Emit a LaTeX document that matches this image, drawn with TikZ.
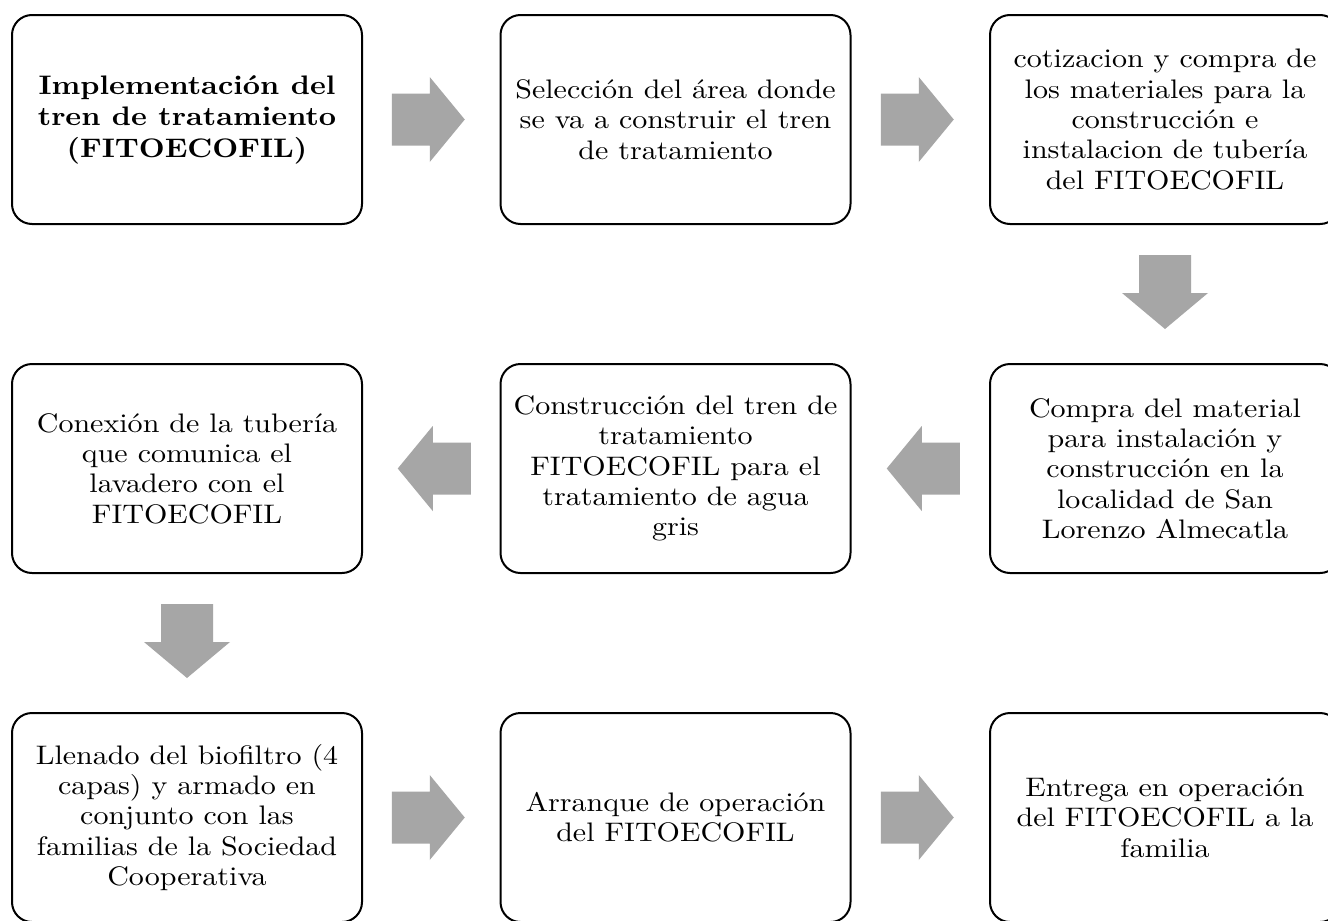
\documentclass[tikz,border=0pt]{standalone}
\usepackage{fontspec}
\setmainfont{lmroman10}[Extension=.otf, UprightFont=*-regular, BoldFont=*-bold, ItalicFont=*-italic, BoldItalicFont=*-bolditalic, FakeStretch=1.12]
\usetikzlibrary{calc}
\definecolor{arrowgray}{RGB}{166,166,166}
\tikzset{
  stepbox/.style={draw, line width=2pt, rounded corners=20pt,
    minimum width=350pt, minimum height=209pt, align=center,
    font=\fontsize{26.8}{30.3}\selectfont, inner sep=0pt},
  boldbox/.style={stepbox, font=\fontsize{26.8}{31.5}\selectfont\bfseries},
  garrow/.style={fill=arrowgray}
}
\newcommand{\ArrR}[1]{\fill[garrow,shift={(#1)}] (-36.5,-26) -- (1.5,-26) -- (1.5,-42.5) -- (36.5,0) -- (1.5,42.5) -- (1.5,26) -- (-36.5,26) -- cycle;}
\newcommand{\ArrL}[1]{\fill[garrow,shift={(#1)}] (36.5,-26) -- (-1.5,-26) -- (-1.5,-42.5) -- (-36.5,0) -- (-1.5,42.5) -- (-1.5,26) -- (36.5,26) -- cycle;}
\newcommand{\ArrD}[1]{\fill[garrow,shift={(#1)}] (-26,-37) -- (26,-37) -- (26,1) -- (43,1) -- (0,37) -- (-43,1) -- (-26,1) -- cycle;}
\begin{document}
\begin{tikzpicture}[x=1pt,y=-1pt]
\clip (0,0) rectangle (1328,921);
\fill[white] (0,0) rectangle (1328,921);
% row 1
\node[boldbox] (b1) at (187,119.5) {Implementación del\\tren de tratamiento\\(FITOECOFIL)};
\node[stepbox] (b2) at (675.5,119.5) {Selección del área donde\\se va a construir el tren\\de tratamiento};
\node[stepbox] (b3) at (1165,119.5) {cotizacion y compra de\\los materiales para la\\construcción e\\instalacion de tubería\\del FITOECOFIL};
% row 2
\node[stepbox] (b4) at (1165,468.5) {Compra del material\\para instalación y\\construcción en la\\localidad de San\\Lorenzo Almecatla};
\node[stepbox] (b5) at (675.5,468.5) {Construcción del tren de\\tratamiento\\FITOECOFIL para el\\tratamiento de agua\\gris};
\node[stepbox] (b6) at (187,468.5) {Conexión de la tubería\\que comunica el\\lavadero con el\\FITOECOFIL};
% row 3
\node[stepbox] (b7) at (187,817.5) {Llenado del biofiltro (4\\capas) y armado en\\conjunto con las\\familias de la Sociedad\\Cooperativa};
\node[stepbox] (b8) at (675.5,817.5) {Arranque de operación\\del FITOECOFIL};
\node[stepbox] (b9) at (1165,817.5) {Entrega en operación\\del FITOECOFIL a la\\familia};
% arrow positions
\coordinate (a12) at ($(b1.east)!0.5!(b2.west)+(-3,0)$);
\coordinate (a23) at ($(b2.east)!0.5!(b3.west)+(-3,0)$);
\coordinate (a34) at ($(b3.south)!0.5!(b4.north)+(0,-2)$);
\coordinate (a45) at ($(b4.west)!0.5!(b5.east)+(3,0)$);
\coordinate (a56) at ($(b5.west)!0.5!(b6.east)+(3,0)$);
\coordinate (a67) at ($(b6.south)!0.5!(b7.north)+(0,-2)$);
\coordinate (a78) at ($(b7.east)!0.5!(b8.west)+(-3,0)$);
\coordinate (a89) at ($(b8.east)!0.5!(b9.west)+(-3,0)$);
\ArrR{a12}
\ArrR{a23}
\ArrD{a34}
\ArrL{a45}
\ArrL{a56}
\ArrD{a67}
\ArrR{a78}
\ArrR{a89}
\end{tikzpicture}
\end{document}
